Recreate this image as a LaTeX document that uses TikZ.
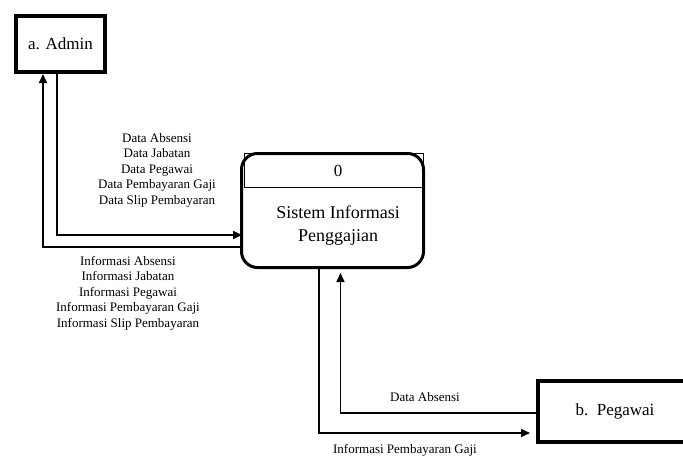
\documentclass[tikz,border=0pt]{standalone}
\usepackage{fontspec}
\setmainfont{Liberation Serif}
\usetikzlibrary{arrows.meta}
\begin{document}
\begin{tikzpicture}[x=1pt,y=-1pt,
  entity/.style={draw, line width=4pt, inner sep=0pt, font=\fontsize{17}{20}\selectfont},
  proc/.style={draw, line width=3pt, rounded corners=16pt, inner sep=0pt},
  arr/.style={line width=1.6pt, -{Triangle[length=9pt,width=8pt]}},
  lbl/.style={align=center, inner sep=0pt, font=\fontsize{13}{15.5}\selectfont}]
\useasboundingbox[fill=white] (0,0) rectangle (683,461);

\node[entity, minimum width=89pt, minimum height=56pt] (adm) at (60.5,44) {a. Admin};
\node[entity, minimum width=154pt, minimum height=61pt] (peg) at (615,411.5) {b.\ \ Pegawai};
\node[proc, minimum width=182pt, minimum height=114pt] (sys) at (332.5,210.5) {};
\draw[line width=0.6pt] (244,153) rectangle (423,187) coordinate (hdr);
\node[font=\fontsize{17}{20}\selectfont] (num) at (338,171) {0};
\node[align=center, font=\fontsize{18}{23}\selectfont] (name) at (338,226) {Sistem Informasi\\Penggajian};

\coordinate (a1) at (43,247);
\coordinate (a2) at (57,235);
\coordinate (p1) at (319,433);
\coordinate (p2) at (340.5,413);
\coordinate (pt) at (530,433);
\coordinate (st) at (340.5,273);

\draw[arr] (sys.west |- a1) -- (a1) -- (adm.south -| a1);
\draw[arr, -] (adm.south -| a2) -- (a2) -- ([xshift=-1pt]sys.west |- a2);
\draw[arr, shorten >=-1pt] (a2) -- ([xshift=1pt]sys.west |- a2);
\draw[arr] (sys.south -| p1) -- (p1) -- (pt);
\draw[arr] (peg.west |- p2) -- (p2) -- (st);

\node[lbl] (l1) at (157,170) {Data Absensi\\Data Jabatan\\Data Pegawai\\Data Pembayaran Gaji\\Data Slip Pembayaran};
\node[lbl] (l2) at (128,293) {Informasi Absensi\\Informasi Jabatan\\Informasi Pegawai\\Informasi Pembayaran Gaji\\Informasi Slip Pembayaran};
\node[lbl] (l3) at (425,397) {Data Absensi};
\node[lbl] (l4) at (405,450) {Informasi Pembayaran Gaji};
\end{tikzpicture}
\end{document}
